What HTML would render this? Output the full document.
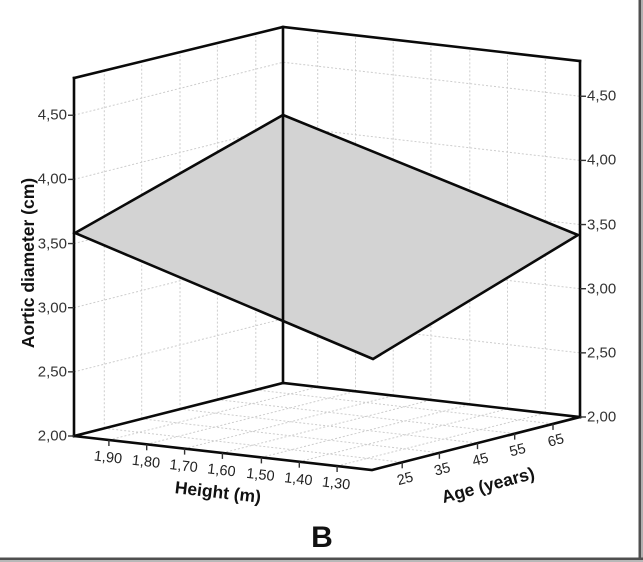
<!DOCTYPE html>
<html>
<head>
<meta charset="utf-8">
<style>
  html, body { margin: 0; padding: 0; background: #fff; }
  body { width: 643px; height: 562px; overflow: hidden; position: relative; }
  svg { position: absolute; left: 0; top: 0; }
  text { font-family: "Liberation Sans", Arial, sans-serif; }
</style>
</head>
<body>
<svg width="643" height="562" viewBox="0 0 643 562" xmlns="http://www.w3.org/2000/svg">
  <rect x="0" y="0" width="643" height="562" fill="#fff"/>

  <!-- grid lines (dotted) -->
  <g stroke="#cdcdcd" stroke-width="1" stroke-dasharray="2,2" fill="none">
    <!-- left wall verticals -->
    <line x1="104.3" y1="428.3" x2="104.3" y2="70.6"/>
    <line x1="141.7" y1="418.8" x2="141.7" y2="61.5"/>
    <line x1="180.0" y1="409.1" x2="180.0" y2="52.1"/>
    <line x1="217.4" y1="399.6" x2="217.4" y2="43.0"/>
    <line x1="255.8" y1="389.9" x2="255.8" y2="33.6"/>
    <!-- right wall verticals -->
    <line x1="317.7" y1="387.0" x2="317.7" y2="31.0"/>
    <line x1="355.5" y1="391.3" x2="355.5" y2="35.3"/>
    <line x1="393.2" y1="395.6" x2="393.2" y2="39.6"/>
    <line x1="430.9" y1="399.9" x2="430.9" y2="43.9"/>
    <line x1="469.8" y1="404.4" x2="469.8" y2="48.4"/>
    <line x1="507.5" y1="408.7" x2="507.5" y2="52.7"/>
    <line x1="545.3" y1="413.0" x2="545.3" y2="57.0"/>
    <!-- wall horizontals -->
    <polyline points="74,371.85 283,318.85 580,352.85"/>
    <polyline points="74,307.7 283,254.7 580,288.7"/>
    <polyline points="74,243.55 283,190.55 580,224.55"/>
    <polyline points="74,179.4 283,126.4 580,160.4"/>
    <polyline points="74,115.25 283,62.25 580,96.25"/>
    <!-- floor lines parallel to L-B (age direction) -->
    <line x1="108.9" y1="440.0" x2="317.9" y2="387.0"/>
    <line x1="146.7" y1="444.3" x2="355.7" y2="391.3"/>
    <line x1="184.6" y1="448.6" x2="393.6" y2="395.6"/>
    <line x1="222.4" y1="452.9" x2="431.4" y2="399.9"/>
    <line x1="261.4" y1="457.4" x2="470.4" y2="404.4"/>
    <line x1="299.3" y1="461.7" x2="508.3" y2="408.7"/>
    <line x1="337.1" y1="466.0" x2="546.1" y2="413.0"/>
    <!-- floor lines parallel to L-F (height direction) -->
    <line x1="104.3" y1="428.3" x2="402.3" y2="462.3"/>
    <line x1="141.7" y1="418.8" x2="439.7" y2="452.8"/>
    <line x1="180.0" y1="409.1" x2="478.0" y2="443.1"/>
    <line x1="217.4" y1="399.6" x2="515.4" y2="433.6"/>
    <line x1="255.8" y1="389.9" x2="553.8" y2="423.9"/>
  </g>

  <!-- plane -->
  <polygon points="75,233 283,115 578,235 373,359" fill="#d3d3d3" stroke="#0a0a0a" stroke-width="2.6" stroke-linejoin="miter"/>

  <!-- box edges -->
  <g stroke="#0a0a0a" stroke-width="2.6" fill="none" stroke-linejoin="miter" stroke-linecap="square">
    <line x1="74" y1="78" x2="74" y2="436"/>
    <polyline points="74,78 283,27 580,61"/>
    <line x1="283" y1="27" x2="283" y2="383"/>
    <line x1="580" y1="61" x2="580" y2="417"/>
    <polyline points="74,436 283,383 580,417"/>
    <polyline points="74,436 372,470 580,417"/>
  </g>

  <!-- ticks -->
  <g stroke="#333" stroke-width="1.4">
    <line x1="68" y1="436" x2="74" y2="436"/>
    <line x1="68" y1="371.85" x2="74" y2="371.85"/>
    <line x1="68" y1="307.7" x2="74" y2="307.7"/>
    <line x1="68" y1="243.55" x2="74" y2="243.55"/>
    <line x1="68" y1="179.4" x2="74" y2="179.4"/>
    <line x1="68" y1="115.25" x2="74" y2="115.25"/>
    <line x1="580" y1="417" x2="586" y2="417"/>
    <line x1="580" y1="352.85" x2="586" y2="352.85"/>
    <line x1="580" y1="288.7" x2="586" y2="288.7"/>
    <line x1="580" y1="224.55" x2="586" y2="224.55"/>
    <line x1="580" y1="160.4" x2="586" y2="160.4"/>
    <line x1="580" y1="96.25" x2="586" y2="96.25"/>
    <line x1="108.9" y1="440.0" x2="108.9" y2="446"/>
    <line x1="146.7" y1="444.3" x2="146.7" y2="450.3"/>
    <line x1="184.6" y1="448.6" x2="184.6" y2="454.6"/>
    <line x1="222.4" y1="452.9" x2="222.4" y2="458.9"/>
    <line x1="261.4" y1="457.4" x2="261.4" y2="463.4"/>
    <line x1="299.3" y1="461.7" x2="299.3" y2="467.7"/>
    <line x1="337.1" y1="466.0" x2="337.1" y2="472"/>
    <line x1="402.2" y1="462.3" x2="402.2" y2="468.3"/>
    <line x1="439.4" y1="452.8" x2="439.4" y2="458.8"/>
    <line x1="477.5" y1="443.1" x2="477.5" y2="449.1"/>
    <line x1="514.7" y1="433.6" x2="514.7" y2="439.6"/>
    <line x1="553.0" y1="423.9" x2="553.0" y2="429.9"/>
  </g>

  <!-- left axis labels -->
  <g font-size="15" fill="#333" text-anchor="end" dominant-baseline="central">
    <text x="67" y="436">2,00</text>
    <text x="67" y="372">2,50</text>
    <text x="67" y="308">3,00</text>
    <text x="67" y="244">3,50</text>
    <text x="67" y="179">4,00</text>
    <text x="67" y="115">4,50</text>
  </g>
  <!-- right axis labels -->
  <g font-size="15" fill="#333" text-anchor="start" dominant-baseline="central">
    <text x="587" y="417">2,00</text>
    <text x="587" y="353">2,50</text>
    <text x="587" y="289">3,00</text>
    <text x="587" y="225">3,50</text>
    <text x="587" y="160">4,00</text>
    <text x="587" y="96">4,50</text>
  </g>

  <!-- height labels -->
  <g font-size="14.5" fill="#222" text-anchor="middle" dominant-baseline="central">
    <text transform="translate(108,458) rotate(6.5)">1,90</text>
    <text transform="translate(146,462.3) rotate(6.5)">1,80</text>
    <text transform="translate(183.6,466.6) rotate(6.5)">1,70</text>
    <text transform="translate(221.4,470.9) rotate(6.5)">1,60</text>
    <text transform="translate(260.4,475.4) rotate(6.5)">1,50</text>
    <text transform="translate(298.3,479.7) rotate(6.5)">1,40</text>
    <text transform="translate(336.1,484) rotate(6.5)">1,30</text>
  </g>
  <!-- age labels -->
  <g font-size="14.5" fill="#222" text-anchor="middle" dominant-baseline="central">
    <text transform="translate(405.2,479.3) rotate(-15)">25</text>
    <text transform="translate(442.4,469.8) rotate(-15)">35</text>
    <text transform="translate(480.5,460.1) rotate(-15)">45</text>
    <text transform="translate(517.7,450.6) rotate(-15)">55</text>
    <text transform="translate(556,440.9) rotate(-15)">65</text>
  </g>

  <!-- axis titles -->
  <g font-size="17.5" font-weight="bold" fill="#111" text-anchor="middle" dominant-baseline="central">
    <text transform="translate(28,263) rotate(-90)">Aortic diameter (cm)</text>
    <text transform="translate(218,492) rotate(6.5)">Height (m)</text>
    <text transform="translate(488,485) rotate(-15)">Age (years)</text>
  </g>

  <!-- B -->
  <text x="322" y="547" font-size="30" font-weight="bold" fill="#111" text-anchor="middle">B</text>

  <!-- frame shadow -->
  <rect x="638.5" y="0" width="2.5" height="562" fill="#505050"/>
  <rect x="641" y="0" width="2" height="562" fill="#b0b0b0"/>
  <rect x="0" y="557.5" width="643" height="2.5" fill="#505050"/>
  <rect x="0" y="560" width="643" height="2" fill="#b8b8b8"/>
</svg>
</body>
</html>
